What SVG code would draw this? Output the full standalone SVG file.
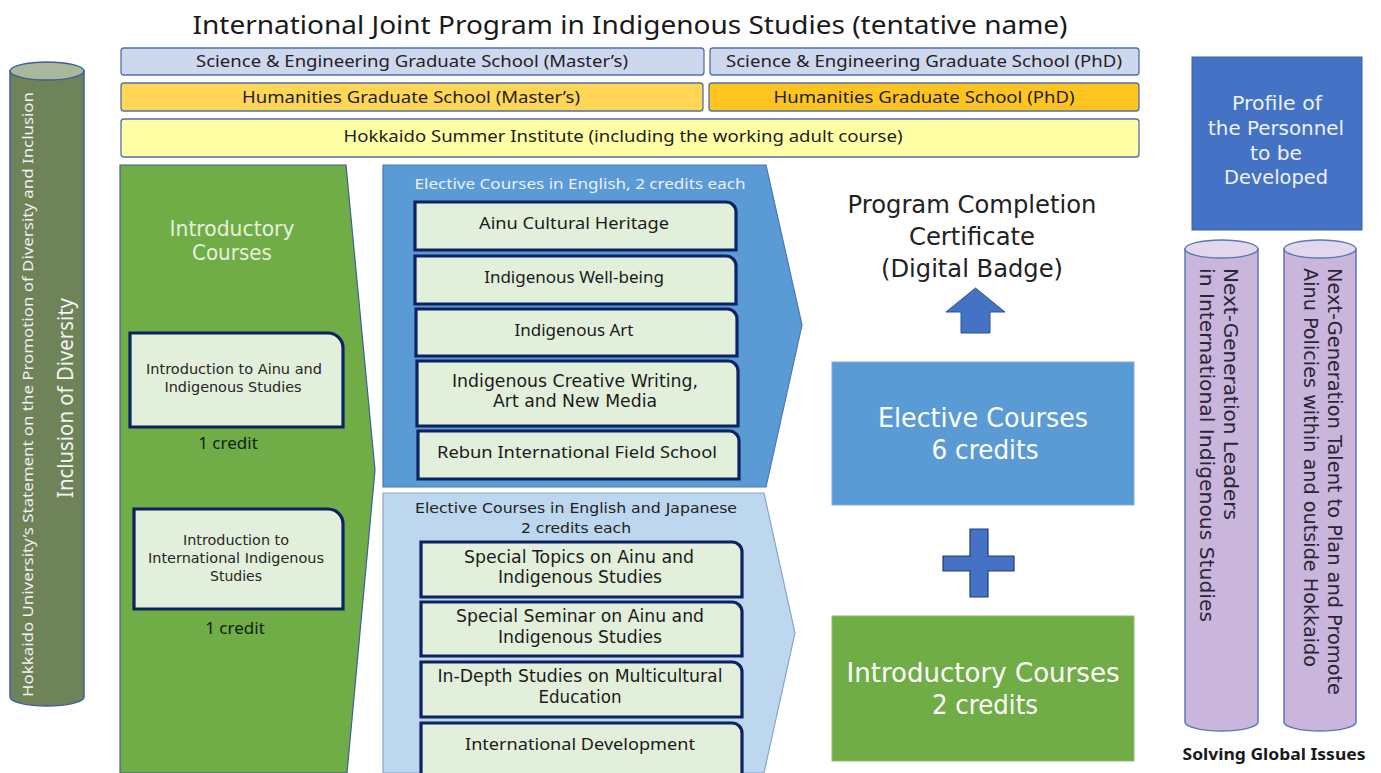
<svg xmlns="http://www.w3.org/2000/svg" width="1381" height="773" viewBox="0 0 1381 773">
<defs>
<style>
text{font-family:"Noto Sans","DejaVu Sans","Liberation Sans",sans-serif;}
text.ml{font-family:"DejaVu Sans","Liberation Sans",sans-serif;}
.bar{stroke:#4f71a8;stroke-width:1.3;}
.crs{fill:#e2efda;stroke:#0d2361;stroke-width:3.2;}
.ct{font-size:17px;fill:#1b1b1b;text-anchor:middle;}
.it{font-size:14px;fill:#262626;text-anchor:middle;}
.cr{font-size:17px;fill:#152012;text-anchor:middle;}
.bt{font-size:17px;fill:#222;text-anchor:middle;}
.wt{fill:#ffffff;text-anchor:middle;}
.pt{font-size:20px;fill:#2a2535;}
</style>
</defs>
<rect width="1381" height="773" fill="#ffffff"/>

<g id="title">
<text x="630" y="34" font-size="26" fill="#1a1a1a" text-anchor="middle" textLength="875" lengthAdjust="spacingAndGlyphs">International Joint Program in Indigenous Studies (tentative name)</text>
</g>

<g id="bar-se-master">
<rect class="bar" x="121" y="48" width="583" height="27" rx="3" fill="#cdd8ee"/>
<text class="bt" x="412" y="67" textLength="432" lengthAdjust="spacingAndGlyphs">Science &amp; Engineering Graduate School (Master’s)</text>
</g>
<g id="bar-se-phd">
<rect class="bar" x="710" y="48" width="429" height="27" rx="3" fill="#cdd8ee"/>
<text class="bt" x="924" y="67" textLength="396" lengthAdjust="spacingAndGlyphs">Science &amp; Engineering Graduate School (PhD)</text>
</g>
<g id="bar-hum-master">
<rect class="bar" x="121" y="83" width="582" height="28" rx="3" fill="#ffd655"/>
<text class="bt" x="411" y="103" textLength="338" lengthAdjust="spacingAndGlyphs">Humanities Graduate School (Master’s)</text>
</g>
<g id="bar-hum-phd">
<rect class="bar" x="709" y="83" width="430" height="28" rx="3" fill="#ffc41f"/>
<text class="bt" x="924" y="103" textLength="301" lengthAdjust="spacingAndGlyphs">Humanities Graduate School (PhD)</text>
</g>
<g id="bar-summer">
<rect class="bar" x="121" y="119" width="1018" height="38" rx="3" fill="#ffffa6"/>
<text class="bt" x="623" y="142" textLength="559" lengthAdjust="spacingAndGlyphs">Hokkaido Summer Institute  (including the working adult course)</text>
</g>

<g id="diversity-pillar">
<path d="M10,71 V697 A37,9 0 0 0 84,697 V71 Z" fill="#6e8358" stroke="#3e5f98" stroke-width="1.5"/>
<ellipse cx="47" cy="71" rx="37" ry="9" fill="#a8b89c" stroke="#3e5f98" stroke-width="1.5"/>
<text transform="translate(33,697) rotate(-90)" font-size="15" fill="#f2f2f2" textLength="605" lengthAdjust="spacingAndGlyphs">Hokkaido University’s Statement on the Promotion of Diversity and Inclusion</text>
<text transform="translate(73,498) rotate(-90)" font-size="21" fill="#f4f4f4" textLength="200" lengthAdjust="spacingAndGlyphs">Inclusion of Diversity</text>
</g>

<g id="introductory-panel">
<path d="M120,165 H346 L375,470 L347,773 H120 Z" fill="#70ad47" stroke="#3e5f98" stroke-width="1.2"/>
<text class="ml" font-size="20.5" fill="#e6f0dc" text-anchor="middle"><tspan x="232" y="236" textLength="125" lengthAdjust="spacingAndGlyphs">Introductory</tspan><tspan x="232" y="260" textLength="80" lengthAdjust="spacingAndGlyphs">Courses</tspan></text>
</g>

<g id="intro-ainu">
<path class="crs" d="M130,333 H328 A15,15 0 0 1 343,348 V427 H130 Z"/>
<text class="it ml"><tspan x="234" y="374" textLength="176" lengthAdjust="spacingAndGlyphs">Introduction to Ainu and</tspan><tspan x="233" y="392" textLength="137" lengthAdjust="spacingAndGlyphs">Indigenous Studies</tspan></text>
<text class="cr" x="228" y="449">1 credit</text>
</g>
<g id="intro-international">
<path class="crs" d="M134,509 H328 A15,15 0 0 1 343,524 V609 H134 Z"/>
<text class="it ml"><tspan x="236" y="545" textLength="106" lengthAdjust="spacingAndGlyphs">Introduction to</tspan><tspan x="236" y="563" textLength="176" lengthAdjust="spacingAndGlyphs">International Indigenous</tspan><tspan x="236" y="581" textLength="52" lengthAdjust="spacingAndGlyphs">Studies</tspan></text>
<text class="cr" x="235" y="634">1 credit</text>
</g>

<g id="elective-english-panel">
<path d="M383,165 H766 L802,325 L766,487 H383 Z" fill="#5b9bd5" stroke="#4a78b4" stroke-width="1.2"/>
<text x="580" y="189" font-size="14.5" fill="#e9f0fa" text-anchor="middle" textLength="331" lengthAdjust="spacingAndGlyphs">Elective Courses in English, 2 credits each</text>
</g>
<g id="course-ainu-heritage">
<path class="crs" d="M415,202 H726 A10,10 0 0 1 736,212 V250 H415 Z"/>
<text class="ct" x="574" y="229" textLength="190" lengthAdjust="spacingAndGlyphs">Ainu Cultural Heritage</text>
</g>
<g id="course-wellbeing">
<path class="crs" d="M415,256 H726 A10,10 0 0 1 736,266 V304 H415 Z"/>
<text class="ct" x="574" y="283">Indigenous Well-being</text>
</g>
<g id="course-art">
<path class="crs" d="M416,309 H727 A10,10 0 0 1 737,319 V356 H416 Z"/>
<text class="ct" x="574" y="336">Indigenous Art</text>
</g>
<g id="course-creative">
<path class="crs" d="M417,361 H728 A10,10 0 0 1 738,371 V426 H417 Z"/>
<text class="ct ml"><tspan x="575" y="387" textLength="246" lengthAdjust="spacingAndGlyphs">Indigenous Creative Writing,</tspan><tspan x="575" y="407" textLength="164" lengthAdjust="spacingAndGlyphs">Art and New Media</tspan></text>
</g>
<g id="course-rebun">
<path class="crs" d="M418,431 H729 A10,10 0 0 1 739,441 V479 H418 Z"/>
<text class="ct" x="577" y="458" textLength="280" lengthAdjust="spacingAndGlyphs">Rebun International Field School</text>
</g>

<g id="elective-bilingual-panel">
<path d="M383,493 H764 L795,633 L764,773 H383 Z" fill="#bdd7ee" stroke="#8aa4cc" stroke-width="1.2"/>
<text class="ml" font-size="14.5" fill="#222" text-anchor="middle"><tspan x="576" y="513" textLength="322" lengthAdjust="spacingAndGlyphs">Elective Courses in English and Japanese</tspan><tspan x="576" y="533" textLength="110" lengthAdjust="spacingAndGlyphs">2 credits each</tspan></text>
</g>
<g id="course-special-topics">
<path class="crs" d="M421,542 H732 A10,10 0 0 1 742,552 V597 H421 Z"/>
<text class="ct ml"><tspan x="579" y="563" textLength="230" lengthAdjust="spacingAndGlyphs">Special Topics on Ainu and</tspan><tspan x="580" y="583" textLength="164" lengthAdjust="spacingAndGlyphs">Indigenous Studies</tspan></text>
</g>
<g id="course-special-seminar">
<path class="crs" d="M421,602 H732 A10,10 0 0 1 742,612 V656 H421 Z"/>
<text class="ct ml"><tspan x="580" y="622" textLength="248" lengthAdjust="spacingAndGlyphs">Special Seminar on Ainu and</tspan><tspan x="580" y="643" textLength="164" lengthAdjust="spacingAndGlyphs">Indigenous Studies</tspan></text>
</g>
<g id="course-multicultural">
<path class="crs" d="M421,662 H732 A10,10 0 0 1 742,672 V717 H421 Z"/>
<text class="ct ml"><tspan x="580" y="682" textLength="285" lengthAdjust="spacingAndGlyphs">In-Depth Studies on Multicultural</tspan><tspan x="580" y="703" textLength="83" lengthAdjust="spacingAndGlyphs">Education</tspan></text>
</g>
<g id="course-intl-dev">
<path class="crs" d="M421,723 H732 A10,10 0 0 1 742,733 V780 H421 Z"/>
<text class="ct" x="580" y="750" textLength="230" lengthAdjust="spacingAndGlyphs">International Development</text>
</g>

<g id="certificate">
<text class="ml" font-size="25" fill="#222" text-anchor="middle"><tspan x="972" y="213" textLength="249" lengthAdjust="spacingAndGlyphs">Program Completion</tspan><tspan x="972" y="245" textLength="126" lengthAdjust="spacingAndGlyphs">Certificate</tspan><tspan x="972" y="277" textLength="182" lengthAdjust="spacingAndGlyphs">(Digital Badge)</tspan></text>
</g>

<g id="connectors">
<polygon points="975.5,288 1005,312 990,312 990,333 961,333 961,312 946,312" fill="#4472c4" stroke="#2f528f" stroke-width="1"/>
</g>

<g id="elective-credits">
<rect x="832" y="362" width="302" height="143" fill="#5b9bd5" stroke="#7fb0de" stroke-width="1"/>
<text class="wt ml" font-size="26.5"><tspan x="983" y="427" textLength="210" lengthAdjust="spacingAndGlyphs">Elective Courses</tspan><tspan x="985" y="459" textLength="107" lengthAdjust="spacingAndGlyphs">6 credits</tspan></text>
</g>

<g id="plus">
<path d="M970,529 H988 V556 H1014 V571 H988 V597 H970 V571 H943 V556 H970 Z" fill="#4472c4" stroke="#223d70" stroke-width="1.2"/>
</g>

<g id="introductory-credits">
<rect x="832" y="616" width="302" height="145" fill="#70ad47" stroke="#8cc06a" stroke-width="1"/>
<text class="wt ml" font-size="26.5"><tspan x="983" y="682" textLength="273" lengthAdjust="spacingAndGlyphs">Introductory Courses</tspan><tspan x="985" y="714" textLength="106" lengthAdjust="spacingAndGlyphs">2 credits</tspan></text>
</g>

<g id="profile">
<rect x="1192" y="57" width="170" height="173" fill="#4472c4" stroke="#3a63ad" stroke-width="1"/>
<text class="wt ml" font-size="20" style="fill:#eef2fb"><tspan x="1277" y="110" textLength="90" lengthAdjust="spacingAndGlyphs">Profile of</tspan><tspan x="1276" y="135" textLength="136" lengthAdjust="spacingAndGlyphs">the Personnel</tspan><tspan x="1276" y="160" textLength="52" lengthAdjust="spacingAndGlyphs">to be</tspan><tspan x="1276" y="184" textLength="104" lengthAdjust="spacingAndGlyphs">Developed</tspan></text>
</g>

<g id="pillar-leaders">
<path d="M1185,249 V722 A36.5,9 0 0 0 1258,722 V249 Z" fill="#cab5dc" stroke="#5a78b0" stroke-width="1.5"/>
<ellipse cx="1221.5" cy="249" rx="36.5" ry="9" fill="#e2d7ec" stroke="#5a78b0" stroke-width="1.5"/>
<text class="pt ml" transform="translate(1224,268) rotate(90)"><tspan x="0" y="0" textLength="252" lengthAdjust="spacingAndGlyphs">Next-Generation Leaders</tspan><tspan x="0" y="24" textLength="354" lengthAdjust="spacingAndGlyphs">in International Indigenous Studies</tspan></text>
</g>

<g id="pillar-talent">
<path d="M1284,249 V722 A36,9 0 0 0 1356,722 V249 Z" fill="#cab5dc" stroke="#5a78b0" stroke-width="1.5"/>
<ellipse cx="1320" cy="249" rx="36" ry="9" fill="#e2d7ec" stroke="#5a78b0" stroke-width="1.5"/>
<text class="pt ml" transform="translate(1328,268) rotate(90)"><tspan x="0" y="0" textLength="427" lengthAdjust="spacingAndGlyphs">Next-Generation Talent to Plan and Promote</tspan><tspan x="0" y="24" textLength="399" lengthAdjust="spacingAndGlyphs">Ainu Policies within and outside Hokkaido</tspan></text>
</g>

<g id="solving">
<text x="1274" y="760" font-size="16" font-weight="bold" fill="#1a1a1a" text-anchor="middle" textLength="183" lengthAdjust="spacingAndGlyphs">Solving Global Issues</text>
</g>
</svg>
